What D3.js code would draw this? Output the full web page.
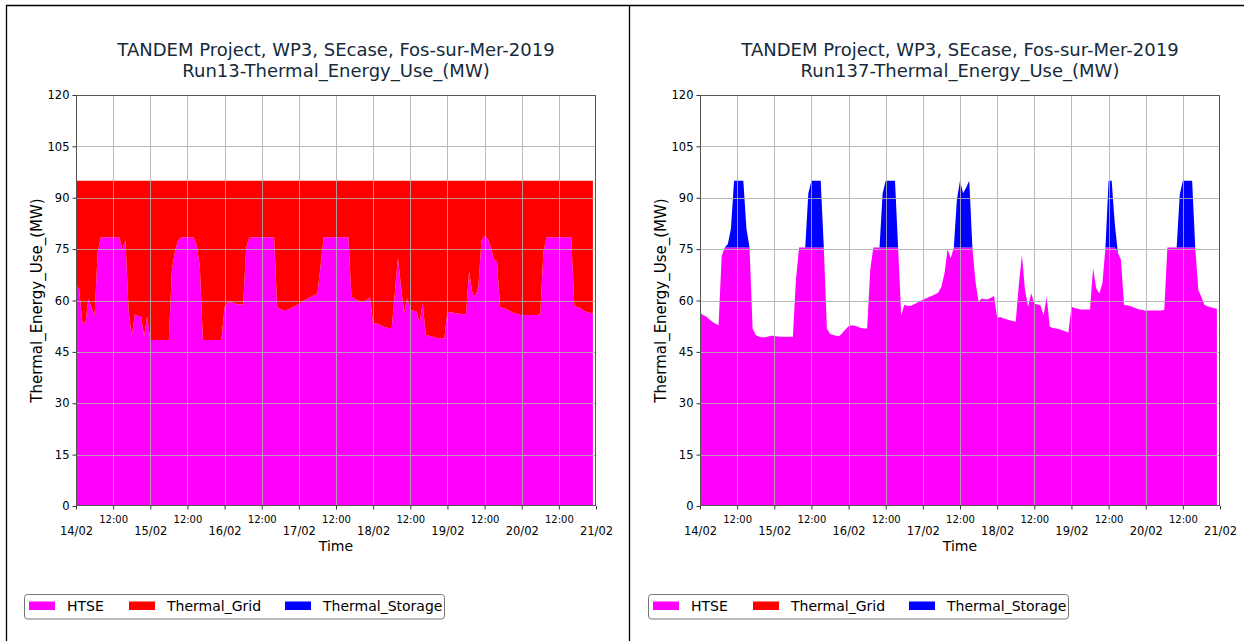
<!DOCTYPE html>
<html>
<head>
<meta charset="utf-8">
<script src="https://cdn.jsdelivr.net/npm/d3@7"></script>
<style>
  html, body { margin: 0; padding: 0; background: #fff; }
  svg { display: block; font-family: "DejaVu Sans", sans-serif; }
</style>
</head>
<body>
<svg id="fig" width="1249" height="641"></svg>
<script>
// ---- data (hourly, 14/02/2019 00:00 .. 20/02/2019 23:00) ----
const seriesKeys = ["HTSE", "Thermal_Grid", "Thermal_Storage"];
const seriesColors = ["#ff00ff", "#ff0000", "#0000ff"];
const yTicks = [0, 15, 30, 45, 60, 75, 90, 105, 120];
const dayLabels = ["14/02", "15/02", "16/02", "17/02", "18/02", "19/02", "20/02", "21/02"];
const halfDayLabel = "12:00";

const run13_htse = [
  64, 63.5, 54, 53, 60.5, 58, 55.5, 74,
  78.5, 78.5, 78.5, 78.5, 78.5, 78.5, 78.5, 75,
  77.5, 57, 49.5, 56, 55.5, 55.5, 49.5, 55.5,
  48.5, 48.5, 48.5, 48.5, 48.5, 48.5, 48.5, 69,
  74.5, 77.5, 78.5, 78.5, 78.5, 78.5, 78.5, 76,
  70, 48.5, 48.5, 48.5, 48.5, 48.5, 48.5, 48.5,
  58, 59.5, 59.5, 59.3, 59, 58.8, 58.8, 75.5,
  78.5, 78.5, 78.5, 78.5, 78.5, 78.5, 78.5, 78.5,
  78.5, 58, 57.5, 57.2, 57.2, 57.5, 58, 58.5,
  59, 59.5, 60.2, 60.6, 61, 61.5, 62, 70,
  78.5, 78.5, 78.5, 78.5, 78.5, 78.5, 78.5, 78.5,
  78.5, 61, 60.5, 60, 59.8, 59.8, 60.2, 61,
  53, 53.4, 53, 52.5, 52.2, 52, 51.9, 62,
  72.5, 64, 56.5, 60.6, 57.2, 57, 56.8, 53.4,
  59.2, 50, 49.7, 49.5, 49.2, 49, 49, 48.9,
  56.7, 56.5, 56.4, 56.2, 56.1, 56, 56, 68.6,
  62.5, 61, 64, 77.5, 78.8, 78, 75.7, 72,
  71.3, 58, 57.8, 57.5, 57, 56.5, 56.2, 56,
  55.7, 55.8, 55.8, 55.8, 55.8, 55.8, 56, 74,
  78.5, 78.5, 78.5, 78.5, 78.5, 78.5, 78.5, 78.5,
  78.5, 58.5, 58, 57.8, 57, 56.7, 56.4, 56.2
];

const run13_grid = [
  31, 31.5, 41, 42, 34.5, 37, 39.5, 21,
  16.5, 16.5, 16.5, 16.5, 16.5, 16.5, 16.5, 20,
  17.5, 38, 45.5, 39, 39.5, 39.5, 45.5, 39.5,
  46.5, 46.5, 46.5, 46.5, 46.5, 46.5, 46.5, 26,
  20.5, 17.5, 16.5, 16.5, 16.5, 16.5, 16.5, 19,
  25, 46.5, 46.5, 46.5, 46.5, 46.5, 46.5, 46.5,
  37, 35.5, 35.5, 35.7, 36, 36.2, 36.2, 19.5,
  16.5, 16.5, 16.5, 16.5, 16.5, 16.5, 16.5, 16.5,
  16.5, 37, 37.5, 37.8, 37.8, 37.5, 37, 36.5,
  36, 35.5, 34.8, 34.4, 34, 33.5, 33, 25,
  16.5, 16.5, 16.5, 16.5, 16.5, 16.5, 16.5, 16.5,
  16.5, 34, 34.5, 35, 35.2, 35.2, 34.8, 34,
  42, 41.6, 42, 42.5, 42.8, 43, 43.1, 33,
  22.5, 31, 38.5, 34.4, 37.8, 38, 38.2, 41.6,
  35.8, 45, 45.3, 45.5, 45.8, 46, 46, 46.1,
  38.3, 38.5, 38.6, 38.8, 38.9, 39, 39, 26.4,
  32.5, 34, 31, 17.5, 16.2, 17, 19.3, 23,
  23.7, 37, 37.2, 37.5, 38, 38.5, 38.8, 39,
  39.3, 39.2, 39.2, 39.2, 39.2, 39.2, 39, 21,
  16.5, 16.5, 16.5, 16.5, 16.5, 16.5, 16.5, 16.5,
  16.5, 36.5, 37, 37.2, 38, 38.3, 38.6, 38.8
];

const run137_htse = [
  56.4, 55.8, 55.3, 54.5, 53.8, 53.2, 52.8, 73,
  75.5, 75.5, 75.5, 75.5, 75.5, 75.5, 75.5, 75.5,
  75.5, 51.8, 49.9, 49.5, 49.2, 49.3, 49.5, 49.7,
  49.6, 49.5, 49.4, 49.4, 49.4, 49.4, 49.4, 66,
  75.5, 75.5, 75.5, 75.5, 75.5, 75.5, 75.5, 75.5,
  75.5, 51.8, 50.3, 49.9, 49.7, 49.6, 50.5, 51.5,
  52.5, 52.8, 52.6, 52.3, 52, 51.8, 51.8, 69,
  75.5, 75.5, 75.5, 75.5, 75.5, 75.5, 75.5, 75.5,
  75.5, 55.7, 58.7, 58.5, 58.4, 58.8, 59.3, 59.8,
  60.2, 60.6, 61, 61.4, 61.8, 62.3, 64, 68,
  75, 72.3, 75.5, 75.5, 75.5, 75.5, 75.5, 75.5,
  75.5, 65.5, 59.6, 60.6, 60.4, 60.4, 60.8, 61.3,
  55, 55.2, 54.8, 54.5, 54.2, 54, 53.8, 64.5,
  73.3, 63.1, 58.2, 62.1, 59.1, 58.8, 58.6, 55.7,
  61.1, 52.3, 52, 51.8, 51.6, 51.3, 51, 50.6,
  58.2, 57.8, 57.6, 57.4, 57.4, 57.4, 57.4, 69.4,
  63.5, 62.1, 64.9, 75.5, 75.5, 75.5, 75.5, 74,
  71.8, 58.7, 58.6, 58.4, 58, 57.7, 57.4, 57.2,
  57, 57.1, 57.1, 57.1, 57.1, 57.1, 57.3, 75.5,
  75.5, 75.5, 75.5, 75.5, 75.5, 75.5, 75.5, 75.5,
  75.5, 63.1, 61, 58.7, 58.3, 58, 57.8, 57.5
];

const run137_storage = [
  0, 0, 0, 0, 0, 0, 0, 0,
  0, 1, 5.5, 19.5, 19.5, 19.5, 19.5, 5.5,
  0, 0, 0, 0, 0, 0, 0, 0,
  0, 0, 0, 0, 0, 0, 0, 0,
  0, 0, 0, 15.8, 19.5, 19.5, 19.5, 19.5,
  0, 0, 0, 0, 0, 0, 0, 0,
  0, 0, 0, 0, 0, 0, 0, 0,
  0, 0, 0, 15.8, 19.5, 19.5, 19.5, 19.5,
  0, 0, 0, 0, 0, 0, 0, 0,
  0, 0, 0, 0, 0, 0, 0, 0,
  0, 0, 0, 14, 19.5, 15.8, 17.5, 19.5,
  0, 0, 0, 0, 0, 0, 0, 0,
  0, 0, 0, 0, 0, 0, 0, 0,
  0, 0, 0, 0, 0, 0, 0, 0,
  0, 0, 0, 0, 0, 0, 0, 0,
  0, 0, 0, 0, 0, 0, 0, 0,
  0, 0, 0, 0, 19.5, 19.5, 7, 0,
  0, 0, 0, 0, 0, 0, 0, 0,
  0, 0, 0, 0, 0, 0, 0, 0,
  0, 0, 0, 15.5, 19.5, 19.5, 19.5, 19.5,
  0, 0, 0, 0, 0, 0, 0, 0
];

const titleLine1 = "TANDEM Project, WP3, SEcase, Fos-sur-Mer-2019";
const panels = [
  { run: "Run13", left: 76, series: { HTSE: run13_htse, Thermal_Grid: run13_grid } },
  { run: "Run137", left: 700, series: { HTSE: run137_htse, Thermal_Storage: run137_storage } }
];

// ---- layout ----
const svg = d3.select("#fig");
const plotW = 520, plotTop = 95, plotBottom = 506;
const t0 = new Date(Date.UTC(2019, 1, 14, 0));
const t1 = new Date(Date.UTC(2019, 1, 21, 0));
const HOUR = 3600 * 1000;

// figure frames
svg.append("line").attr("x1", 6).attr("x2", 1244).attr("y1", 5.5).attr("y2", 5.5)
  .attr("stroke", "#000").attr("stroke-width", 1.3);
svg.append("line").attr("x1", 6.5).attr("x2", 6.5).attr("y1", 5).attr("y2", 641)
  .attr("stroke", "#000").attr("stroke-width", 1.3);
svg.append("line").attr("x1", 629.5).attr("x2", 629.5).attr("y1", 5).attr("y2", 641)
  .attr("stroke", "#000").attr("stroke-width", 1.3);

panels.forEach((p, pi) => {
  const g = svg.append("g");
  const x = d3.scaleUtc().domain([t0, t1]).range([p.left, p.left + plotW]);
  const y = d3.scaleLinear().domain([0, 120]).range([plotBottom, plotTop]);

  const n = p.series.HTSE.length;
  const rows = d3.range(n).map(i => {
    const r = { time: new Date(t0.getTime() + i * HOUR) };
    seriesKeys.forEach(k => { if (p.series[k]) r[k] = p.series[k][i]; });
    return r;
  });

  const stack = d3.stack().keys(seriesKeys).value((d, k) => d[k] || 0);
  const layers = stack(rows);
  const area = d3.area()
    .x(d => x(d.data.time))
    .y0(d => y(d[0]))
    .y1(d => y(d[1]));

  const clipId = "clip" + pi;
  g.append("clipPath").attr("id", clipId).append("rect")
    .attr("x", p.left).attr("y", plotTop).attr("width", plotW).attr("height", plotBottom - plotTop);

  g.append("g").attr("clip-path", `url(#${clipId})`)
    .selectAll("path").data(layers).join("path")
    .attr("fill", (d, i) => seriesColors[i])
    .attr("d", d => p.series[d.key] ? area(d) : null);

  // grid on top of the areas
  const gridTimes = d3.range(0, 15).map(i => new Date(t0.getTime() + i * 12 * HOUR));
  const grid = g.append("g").attr("stroke", "#b0b0b0").attr("stroke-width", 1).attr("opacity", 0.85);
  grid.selectAll("line.v").data(gridTimes.slice(1, -1)).join("line")
    .attr("x1", d => Math.round(x(d)) + 0.5).attr("x2", d => Math.round(x(d)) + 0.5)
    .attr("y1", plotTop).attr("y2", plotBottom);
  grid.selectAll("line.h").data(yTicks.slice(1, -1)).join("line")
    .attr("x1", p.left).attr("x2", p.left + plotW)
    .attr("y1", d => Math.round(y(d)) + 0.5).attr("y2", d => Math.round(y(d)) + 0.5);

  // frame
  g.append("rect").attr("x", p.left + 0.5).attr("y", plotTop + 0.5)
    .attr("width", plotW - 1).attr("height", plotBottom - plotTop - 1)
    .attr("fill", "none").attr("stroke", "#555").attr("stroke-width", 1);

  // y axis
  const yAxis = g.append("g").attr("transform", `translate(${p.left},0)`)
    .call(d3.axisLeft(y).tickValues(yTicks).tickSize(3.5).tickPadding(3));
  yAxis.select(".domain").remove();
  yAxis.selectAll("line").attr("stroke", "#333");
  yAxis.selectAll("text").attr("font-size", 11.5).attr("fill", "#000")
    .attr("font-family", "DejaVu Sans");

  // x axis: day ticks and 12:00 ticks
  const dayTimes = gridTimes.filter((d, i) => i % 2 === 0);
  const halfTimes = gridTimes.filter((d, i) => i % 2 === 1);
  const xMajor = g.append("g").attr("transform", `translate(0,${plotBottom})`)
    .call(d3.axisBottom(x).tickValues(dayTimes).tickSize(3.5)
      .tickFormat((d, i) => dayLabels[i]));
  xMajor.select(".domain").remove();
  xMajor.selectAll("line").attr("stroke", "#333");
  xMajor.selectAll("text").attr("font-size", 11.5).attr("fill", "#000")
    .attr("font-family", "DejaVu Sans").attr("y", 21).attr("dy", "0.71em");

  const xMinor = g.append("g").attr("transform", `translate(0,${plotBottom})`)
    .call(d3.axisBottom(x).tickValues(halfTimes).tickSize(3.5)
      .tickFormat(() => halfDayLabel));
  xMinor.select(".domain").remove();
  xMinor.selectAll("line").attr("stroke", "#333");
  xMinor.selectAll("text").attr("font-size", 10).attr("fill", "#000")
    .attr("font-family", "DejaVu Sans").attr("y", 10).attr("dy", "0.71em");

  // titles and axis labels
  const cx = p.left + plotW / 2;
  g.append("text").attr("x", cx).attr("y", 56).attr("text-anchor", "middle")
    .attr("font-size", 18).attr("fill", "#152a3a").text(titleLine1);
  g.append("text").attr("x", cx).attr("y", 77).attr("text-anchor", "middle")
    .attr("font-size", 18).attr("fill", "#152a3a").text(p.run + "-Thermal_Energy_Use_(MW)");
  g.append("text").attr("x", cx).attr("y", 551).attr("text-anchor", "middle")
    .attr("font-size", 14).attr("fill", "#000").text("Time");
  g.append("text").attr("transform", `translate(${p.left - 34},${(plotTop + plotBottom) / 2}) rotate(-90)`)
    .attr("text-anchor", "middle").attr("font-size", 15).attr("fill", "#000")
    .text("Thermal_Energy_Use_(MW)");

  // legend
  const lx = p.left - 52;
  const lg = g.append("g").attr("transform", `translate(${lx},594)`);
  lg.append("rect").attr("x", 0.5).attr("y", 0.5).attr("width", 420).attr("height", 24.5)
    .attr("rx", 3).attr("fill", "#fff").attr("stroke", "#777").attr("stroke-width", 1);
  const itemX = [5, 105, 261];
  seriesKeys.forEach((k, i) => {
    lg.append("rect").attr("x", itemX[i]).attr("y", 7.5).attr("width", 26).attr("height", 8.5)
      .attr("fill", seriesColors[i]);
    lg.append("text").attr("x", itemX[i] + 38).attr("y", 17).attr("font-size", 14)
      .attr("fill", "#000").text(k);
  });
});
</script>
</body>
</html>
